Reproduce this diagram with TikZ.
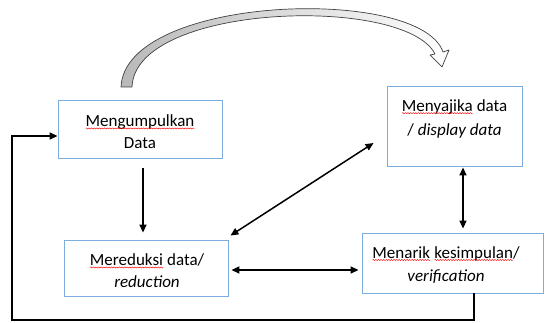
\documentclass[tikz,border=0pt]{standalone}
\usepackage{fontspec}
\setmainfont{Carlito}
\usetikzlibrary{calc,arrows.meta,decorations.pathmorphing}
\definecolor{boxblue}{RGB}{125,172,222}
\newcommand\spl[1]{\tikz[baseline=(w.base)]{\node[inner sep=0pt,outer sep=0pt](w){#1};\draw[red,line width=0.45pt,decorate,decoration={snake,amplitude=0.55pt,segment length=2.6pt}]([yshift=-1.6pt]w.base west)--([yshift=-1.6pt]w.base east);}}
\tikzset{
  box/.style={draw=boxblue,line width=0.9pt,rectangle,inner sep=0pt,align=center,font=\fontsize{17}{22}\selectfont},
  arr/.style={line width=1.5pt,-{Triangle[length=8pt,width=7pt]}},
  darr/.style={line width=1.5pt,{Triangle[length=8pt,width=7pt]}-{Triangle[length=8pt,width=7pt]}},
}
\begin{document}
\begin{tikzpicture}[x=1pt,y=-1pt]
\useasboundingbox (0,0) rectangle (545,323);
\node[box,minimum width=164pt,minimum height=58pt] (b1) at (140,129) {};
\node[font=\fontsize{17}{22}\selectfont,align=center] (t1) at (140,132) {\spl{Mengumpulkan}\\Data};
\node[box,minimum width=164pt,minimum height=56pt] (b2) at (146,268) {};
\node[font=\fontsize{17}{22}\selectfont,align=center] (t2) at (147,271) {\spl{Mereduksi} data/\\\textit{reduction}};
\node[box,minimum width=135pt,minimum height=80pt] (b3) at (454.5,126) {};
\node[font=\fontsize{17}{24}\selectfont,align=center] (t3) at (454.5,119) {\spl{Menyajika} data\\/ \textit{display data}};
\node[box,minimum width=181pt,minimum height=60pt] (b4) at (452.5,263) {};
\node[font=\fontsize{17}{23}\selectfont,align=center] (t4) at (446,265) {\spl{Menarik} \spl{kesimpulan}/\\\textit{verification}};
% arrows
\draw[arr] ($(b1.south)+(3,10)$) -- ($(b2.north)+(-3,-7)$);
\draw[darr] ($(b2.north east)+(2,-4)$) -- ($(b3.west)+(-13,17)$);
\draw[darr] ($(b2.east)+(3,2)$) -- ($(b4.west)+(-3,7)$);
\draw[darr] ($(b3.south)+(8.5,1)$) -- ($(b4.north)+(10.5,-4)$);
\coordinate (f1) at ($(b4.south)+(21.5,0)$);
\coordinate (f2) at (12,320);
\draw[arr] (f1) |- (f2) |- ($(b1.west)+(0,7)$);
% curved block arrow
\shade[left color=gray!55,right color=white,draw=black!75,line width=0.7pt,line join=round]
  (121,87) .. controls (125,-5) and (420,-15) .. (443,52)
  -- (449,50) -- (442,67) -- (430,55) -- (435,54)
  .. controls (405,-5) and (135,3) .. (132,87) -- cycle;
\end{tikzpicture}
\end{document}
